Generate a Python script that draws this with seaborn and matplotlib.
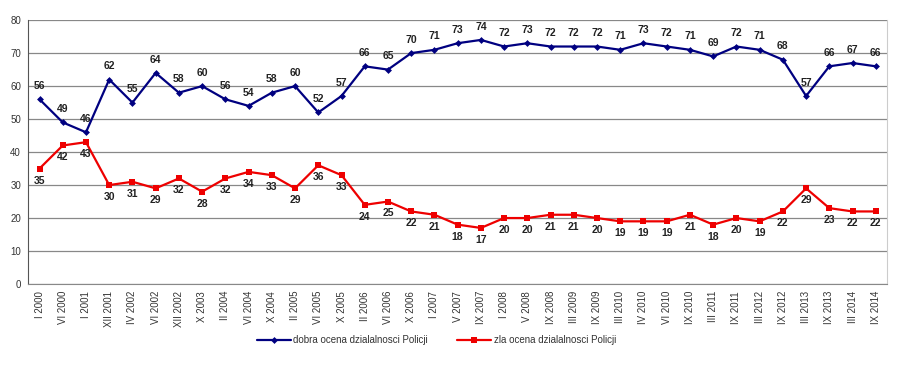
import matplotlib
matplotlib.use("Agg")
import matplotlib.pyplot as plt
import numpy as np
import pandas as pd
import seaborn as sns

periods = ["I 2000", "VI 2000", "I 2001", "XII 2001", "IV 2002", "VI 2002", "XII 2002",
           "X 2003", "II 2004", "VI 2004", "X 2004", "II 2005", "VI 2005", "X 2005",
           "II 2006", "VI 2006", "X 2006", "I 2007", "V 2007", "IX 2007", "I 2008",
           "V 2008", "IX 2008", "III 2009", "IX 2009", "III 2010", "IV 2010", "VI 2010",
           "IX 2010", "III 2011", "IX 2011", "III 2012", "IX 2012", "III 2013",
           "IX 2013", "III 2014", "IX 2014"]
good = [56, 49, 46, 62, 55, 64, 58, 60, 56, 54, 58, 60, 52, 57, 66, 65, 70, 71, 73, 74,
        72, 73, 72, 72, 72, 71, 73, 72, 71, 69, 72, 71, 68, 57, 66, 67, 66]
bad = [35, 42, 43, 30, 31, 29, 32, 28, 32, 34, 33, 29, 36, 33, 24, 25, 22, 21, 18, 17,
       20, 20, 21, 21, 20, 19, 19, 19, 21, 18, 20, 19, 22, 29, 23, 22, 22]
label_good = "dobra ocena dzialalnosci Policji"
label_bad = "zla ocena dzialalnosci Policji"

sns.set_style("white")
plt.rcParams["font.family"] = ["Liberation Sans", "DejaVu Sans"]

pos = np.arange(len(periods)) + 0.5
df = pd.DataFrame({"pos": pos, "good": good, "bad": bad})

fig = plt.figure(figsize=(9, 3.66), dpi=100)
ax = fig.add_axes([0.031, 0.224, 0.955, 0.721])

sns.lineplot(data=df, x="pos", y="good", ax=ax, color="#000080", lw=1.6,
             marker="D", markersize=3.5, markeredgewidth=0, label=label_good)
sns.lineplot(data=df, x="pos", y="bad", ax=ax, color="#ee0000", lw=1.6,
             marker="s", markersize=4, markeredgewidth=0, label=label_bad)

for x, g, b in zip(pos, good, bad):
    ax.annotate(str(g), (x, g), xytext=(0, 6), textcoords="offset points",
                ha="center", va="bottom", fontsize=7.5, fontweight="bold", color="#222222")
    ax.annotate(str(b), (x, b), xytext=(0, -5), textcoords="offset points",
                ha="center", va="top", fontsize=7.5, fontweight="bold", color="#222222")

ax.set_xlim(0, len(periods))
ax.set_ylim(0, 80)
ax.set_yticks(range(0, 81, 10))
ax.set_xticks(pos)
ax.set_xticklabels(periods, rotation=90, fontsize=7, color="#333333")
ax.set_xticks(np.arange(len(periods) + 1), minor=True)
ax.tick_params(axis="x", which="major", length=0, pad=5)
ax.tick_params(axis="x", which="minor", length=3, color="#555555", direction="out")
ax.tick_params(axis="y", labelsize=7, labelcolor="#333333", length=3, color="#555555",
               direction="out", pad=2)
ax.yaxis.grid(True, color="#888888", lw=0.9)
ax.set_axisbelow(True)
ax.set_xlabel("")
ax.set_ylabel("")
ax.spines["top"].set_visible(False)
ax.spines["left"].set_color("#555555")
ax.spines["bottom"].set_color("#888888")
ax.spines["right"].set_color("#cccccc")

ax.legend(loc="center", bbox_to_anchor=(0.485, 0.07), bbox_transform=fig.transFigure,
          ncol=2, frameon=False, fontsize=7, handlelength=3.5, columnspacing=3,
          handletextpad=0.3, labelcolor="#333333")

fig.savefig("out.png", dpi=100)
